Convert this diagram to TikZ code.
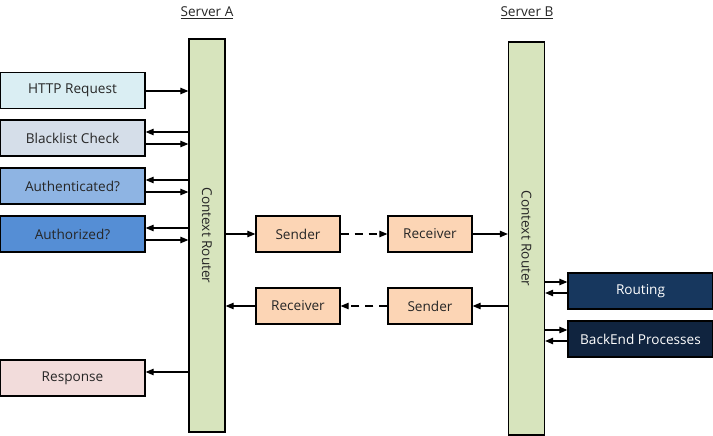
\documentclass[tikz,border=0pt]{standalone}
\usepackage{fontspec}
\setmainfont{Open Sans}
\usetikzlibrary{arrows.meta}
\definecolor{barg}{HTML}{D7E4BD}
\definecolor{httpc}{HTML}{DAEEF3}
\definecolor{blc}{HTML}{D5DEE9}
\definecolor{authc}{HTML}{8EB4E3}
\definecolor{authz}{HTML}{558ED5}
\definecolor{respc}{HTML}{F2DCDB}
\definecolor{sendc}{HTML}{FCD5B5}
\definecolor{routc}{HTML}{17375E}
\definecolor{backc}{HTML}{10243F}
\definecolor{txt}{HTML}{262626}
\tikzset{
  box/.style={draw=black, line width=1.3pt, minimum width=145pt, minimum height=36pt, inner sep=0pt, font=\fontsize{13.6}{15}\selectfont, text=txt},
  midbox/.style={box, minimum width=84pt, fill=sendc},
  bar/.style={draw=black, line width=1.3pt, fill=barg, minimum width=36pt, inner sep=0pt},
  arr/.style={line width=1.1pt, -{Triangle[length=8pt,width=6.5pt]}},
  darr/.style={arr, dash pattern=on 8pt off 6pt},
  title/.style={font=\fontsize{13.6}{15}\selectfont, text=txt}
}
\begin{document}
\begin{tikzpicture}[x=1pt,y=-1pt]
\useasboundingbox (0,0) rectangle (713,436);
% bars
\node[bar, minimum height=393pt] (ra) at (207,235.5) {};
\node[bar, minimum height=393pt] (rb) at (526.5,238.5) {};
\node[rotate=-90, title] at (ra.center) {Context Router};
\node[rotate=-90, title] at (rb.center) {Context Router};
\node[title] (sa) at (207,13) {\underline{Server A}};
\node[title] (sb) at (527,13) {\underline{Server B}};
% left boxes
\node[box, fill=httpc] (http) at (72.5,90.5) {HTTP Request};
\node[box, fill=blc] (bl) at (72.5,138) {Blacklist Check};
\node[box, fill=authc] (au) at (72.5,186) {Authenticated?};
\node[box, fill=authz] (az) at (72.5,234) {Authorized?};
\node[box, fill=respc] (resp) at (72.5,378) {Response};
% middle
\node[midbox] (s1) at (298,234) {Sender};
\node[midbox] (r1) at (430,234) {Receiver};
\node[midbox] (r2) at (298,306) {Receiver};
\node[midbox] (s2) at (430,306) {Sender};
% right
\node[box, fill=routc, text=white] (rout) at (640.5,291) {Routing};
\node[box, fill=backc, text=white] (back) at (640.5,339) {BackEnd Processes};
% arrows left
\draw[arr] (http.east |- 0,91) -- (ra.west |- 0,91);
\draw[arr] (ra.west |- 0,132) -- (bl.east |- 0,132);
\draw[arr] (bl.east |- 0,144) -- (ra.west |- 0,144);
\draw[arr] (ra.west |- 0,180) -- (au.east |- 0,180);
\draw[arr] (au.east |- 0,192) -- (ra.west |- 0,192);
\draw[arr] (ra.west |- 0,228) -- (az.east |- 0,228);
\draw[arr] (az.east |- 0,240) -- (ra.west |- 0,240);
\draw[arr] (ra.west |- 0,372) -- (resp.east |- 0,372);
% middle arrows
\draw[arr] (ra.east |- s1.west) -- (s1.west);
\draw[darr] (s1.east) -- (r1.west);
\draw[arr] (r1.east) -- (rb.west |- r1.east);
\draw[arr] (rb.west |- s2.east) -- (s2.east);
\draw[darr] (s2.west) -- (r2.east);
\draw[arr] (r2.west) -- (ra.east |- r2.west);
% right arrows
\draw[arr] (rb.east |- 0,282) -- (rout.west |- 0,282);
\draw[arr] (rout.west |- 0,293) -- (rb.east |- 0,293);
\draw[arr] (rb.east |- 0,330) -- (back.west |- 0,330);
\draw[arr] (back.west |- 0,341) -- (rb.east |- 0,341);
\end{tikzpicture}
\end{document}
